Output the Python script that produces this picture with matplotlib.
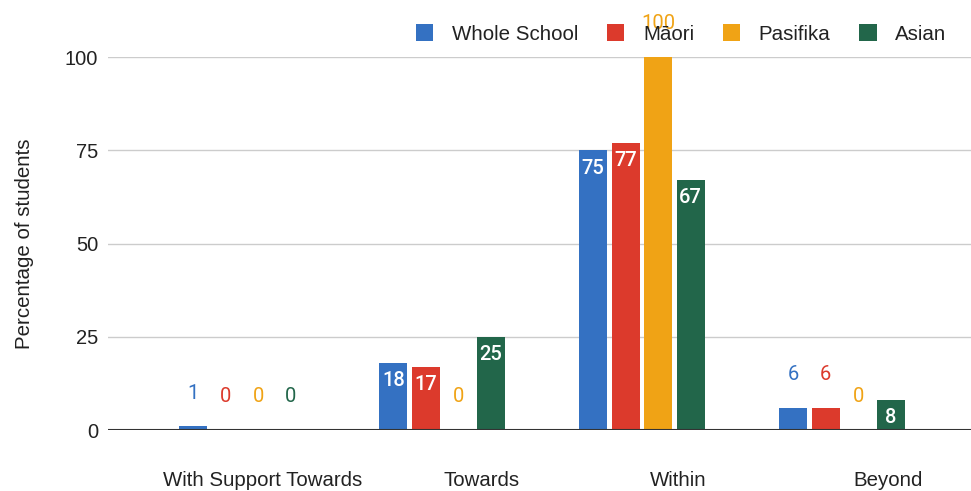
import matplotlib
matplotlib.use("Agg")
import matplotlib.pyplot as plt
import matplotlib.transforms as mtransforms
import numpy as np

categories = ["With Support Towards", "Towards", "Within", "Beyond"]
series_names = ["Whole School", "M\u0101ori", "Pasifika", "Asian"]
whole_school = [1, 18, 75, 6]
maori = [0, 17, 77, 6]
pasifika = [0, 0, 100, 0]
asian = [0, 25, 67, 8]
y_ticks = [0, 25, 50, 75, 100]

series_values = [whole_school, maori, pasifika, asian]
colors = ["#3471c2", "#dc3a2c", "#f0a315", "#22664a"]

W, H = 971, 491
fig = plt.figure(figsize=(W / 100, H / 100), dpi=100)
fig.patch.set_facecolor("white")
ax = fig.add_axes([108 / W, 61 / H, 1 - 108 / W, 373 / H])

x = np.arange(len(categories))
bar_w = 0.14
step = 0.1625
axis_font = ["Liberation Sans", "DejaVu Sans"]
label_font = ["Roboto", "DejaVu Sans"]
text_col = "#222222"

for i, (name, vals, col) in enumerate(zip(series_names, series_values, colors)):
    xs = x + (i - 1.5) * step
    ax.bar(xs, vals, width=bar_w, color=col, label=name, zorder=3)
    for xi, v in zip(xs, vals):
        if 7 <= v < 100:
            ax.annotate(str(v), (xi, v), xytext=(0, -6), textcoords="offset points",
                        ha="center", va="top", color="white", fontsize=14.5,
                        fontweight="medium", family=label_font, zorder=4)
        else:
            ax.annotate(str(v), (xi, v), xytext=(0, 17), textcoords="offset points",
                        ha="center", va="bottom", color=col, fontsize=14.5,
                        family=label_font, zorder=4, annotation_clip=False)

ax.set_xlim(-0.67, 3.645)
ax.set_ylim(0, 100)
ax.set_yticks(y_ticks)
ax.set_yticklabels([str(t) for t in y_ticks], family=axis_font, fontsize=14.5, color=text_col)
ax.set_xticks(x)
ax.set_xticklabels([])
ax.tick_params(axis="x", length=0)
ax.tick_params(axis="y", length=0, pad=7)

# category names sit a little right of their bar groups, near the bottom edge
label_shift_px = [21, 40, 36, 46]
for xi, name, dx in zip(x, categories, label_shift_px):
    shift = mtransforms.ScaledTranslation(dx / 100, 0, fig.dpi_scale_trans)
    trans = mtransforms.blended_transform_factory(ax.transData, fig.transFigure) + shift
    ax.text(xi, 1 / H, name, transform=trans, ha="center", va="bottom",
            family=axis_font, fontsize=14.7, color=text_col, clip_on=False)

ax.grid(axis="y", color="#cccccc", linewidth=1, zorder=0)
ax.axhline(0, color="#333333", linewidth=1.5, zorder=5)
for s in ax.spines.values():
    s.set_visible(False)

ax.set_ylabel("Percentage of students", family=axis_font, fontsize=14.8, color=text_col, labelpad=22)

leg = fig.legend(loc="upper right", bbox_to_anchor=(965 / W, 1 - 6 / H), ncol=4,
                 frameon=False, prop={"family": axis_font, "size": 14.8},
                 handlelength=0.85, handleheight=0.85, handletextpad=0.9,
                 columnspacing=1.4)
for t in leg.get_texts():
    t.set_color(text_col)

fig.savefig("out.png", dpi=100)
